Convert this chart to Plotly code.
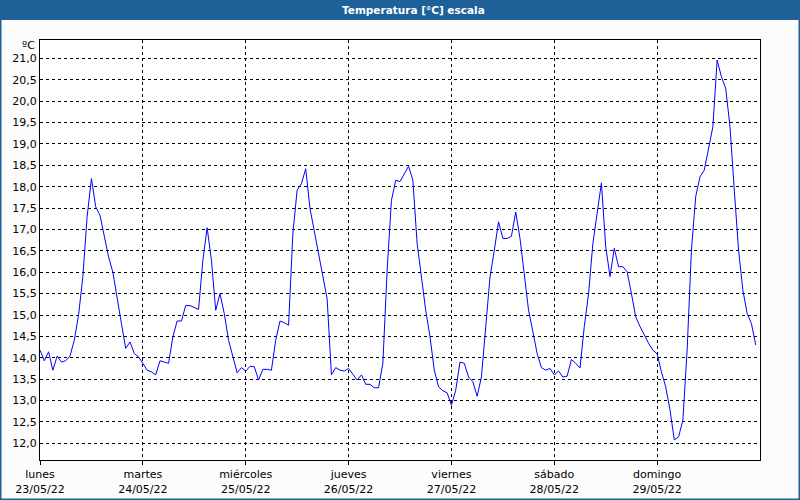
import plotly.graph_objects as go

# Hourly temperature readings, Monday 23/05/22 00:00 to Sunday 29/05/22 23:00
hours = list(range(168))
temps = [
    # lunes
    14.18, 13.93, 14.14, 13.71, 14.04, 13.90, 13.93, 14.04, 14.41, 15.00, 15.90, 17.30,
    18.19, 17.53, 17.33, 16.83, 16.36, 16.00, 15.35, 14.80, 14.22, 14.37, 14.10, 14.02,
    # martes
    13.87, 13.71, 13.67, 13.60, 13.93, 13.90, 13.87, 14.49, 14.86, 14.86, 15.22, 15.22,
    15.17, 15.13, 16.28, 17.04, 16.28, 15.11, 15.50, 15.03, 14.41, 14.02, 13.65, 13.77,
    # miércoles
    13.69, 13.80, 13.79, 13.48, 13.73, 13.73, 13.71, 14.41, 14.86, 14.82, 14.76, 16.90,
    17.92, 18.07, 18.42, 17.49, 16.98, 16.44, 15.89, 15.38, 13.60, 13.77, 13.71, 13.69,
    # jueves
    13.75, 13.60, 13.48, 13.60, 13.38, 13.38, 13.30, 13.30, 13.87, 16.05, 17.68, 18.15,
    18.12, 18.30, 18.48, 18.15, 16.67, 15.89, 15.11, 14.49, 13.71, 13.32, 13.23, 13.18,
    # viernes
    12.89, 13.24, 13.90, 13.87, 13.55, 13.44, 13.10, 13.55, 14.64, 15.89, 16.51, 17.18,
    16.79, 16.79, 16.84, 17.41, 16.79, 15.89, 15.11, 14.61, 14.10, 13.77, 13.71, 13.75,
    # sábado
    13.60, 13.69, 13.55, 13.57, 13.96, 13.87, 13.76, 14.73, 15.50, 16.67, 17.38, 18.09,
    16.60, 15.90, 16.56, 16.13, 16.13, 16.01, 15.50, 14.96, 14.73, 14.53, 14.34, 14.18,
    # domingo
    14.09, 13.67, 13.32, 12.78, 12.08, 12.15, 12.54, 14.18, 16.52, 17.77, 18.23, 18.39,
    18.93, 19.40, 20.96, 20.57, 20.30, 19.40, 17.92, 16.52, 15.58, 15.04, 14.80, 14.30,
]

day_ticks = [0, 24, 48, 72, 96, 120, 144]
day_names = ["lunes", "martes", "miércoles", "jueves", "viernes", "sábado", "domingo"]
day_dates = ["23/05/22", "24/05/22", "25/05/22", "26/05/22", "27/05/22", "28/05/22", "29/05/22"]
y_ticks = [12.0 + 0.5 * i for i in range(19)]

title_text = "Temperatura [°C] escala"
unit_text = "ºC"

FONT = "DejaVu Sans"

fig = go.Figure()
fig.add_trace(go.Scatter(
    x=hours, y=temps, mode="lines",
    line=dict(color="#0000ff", width=1),
    hoverinfo="skip", showlegend=False,
))

# plot area: x 40..760, y 40..460 in an 800x500 page
L, R, T, B = 40, 40, 40, 40
W, H = 800, 500
pw, ph = W - L - R, H - T - B

def px(x):
    return (x - L) / pw

def py(y):
    return (H - B - y) / ph

fig.update_layout(
    width=W, height=H,
    margin=dict(l=L, r=R, t=T, b=B, pad=0, autoexpand=False),
    paper_bgcolor="#fbfcfb",
    plot_bgcolor="#ffffff",
    separators=",.",
    font=dict(family=FONT, size=11, color="#000000"),
    shapes=[
        # title bar
        dict(type="rect", xref="paper", yref="paper",
             x0=px(0), x1=px(800), y0=py(20), y1=py(0),
             fillcolor="rgb(30,96,152)", line=dict(width=0), layer="below"),
        # outer frame
        dict(type="rect", xref="paper", yref="paper",
             x0=px(0.75), x1=px(799.25), y0=py(499.25), y1=py(0),
             line=dict(color="rgb(30,96,152)", width=1.5), layer="below"),
    ],
    annotations=[
        dict(text="<b>" + title_text + "</b>", xref="paper", yref="paper",
             x=px(413), y=py(10), xanchor="center", yanchor="middle",
             showarrow=False, font=dict(family=FONT, size=10.5, color="#ffffff")),
        dict(text=unit_text, xref="paper", yref="paper",
             x=px(37), y=py(46), xanchor="right", yanchor="middle",
             showarrow=False, font=dict(family=FONT, size=11, color="#000000")),
    ],
)

fig.update_xaxes(
    range=[0, 168], automargin=False,
    tickmode="array", tickvals=day_ticks,
    ticktext=[f"{n}<br>{d}" for n, d in zip(day_names, day_dates)],
    ticks="outside", ticklen=4, tickcolor="#000000", tickwidth=1,
    showgrid=True, gridcolor="#000000", gridwidth=1, griddash="3px,3px",
    showline=True, linecolor="#000000", linewidth=1, mirror=True,
    zeroline=False, fixedrange=True,
    tickfont=dict(family=FONT, size=11, color="#000000"),
)
fig.update_yaxes(
    range=[11.61, 21.43], automargin=False,
    tickmode="array", tickvals=y_ticks, tickformat=".1f",
    ticks="", ticklen=0,
    showgrid=True, gridcolor="#000000", gridwidth=1, griddash="3px,3px",
    showline=True, linecolor="#000000", linewidth=1, mirror=True,
    zeroline=False, fixedrange=True,
    tickfont=dict(family=FONT, size=11, color="#000000"),
)

fig.write_html(
    "out.html",
    config={"displayModeBar": False, "staticPlot": True},
    post_script="document.body.style.margin='0';document.body.style.overflow='hidden';",
)
